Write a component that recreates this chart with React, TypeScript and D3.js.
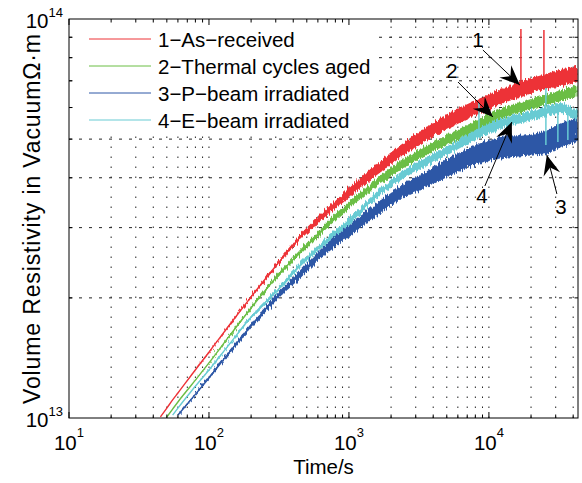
import React from 'react';
import * as d3 from 'd3';

// ---------- data (time in s, resistivity in units of 1e13 Ω·m) ----------
const times = [45, 50, 55, 60, 75, 100, 140, 200, 300, 450, 700, 1000, 1500, 2300, 3500, 5000, 8000, 12000, 17000, 25000, 32000, 38000, 43000];

const asReceived = [1.006, 1.059, 1.110, 1.155, 1.282, 1.463, 1.710, 2.011, 2.404, 2.843, 3.283, 3.664, 4.136, 4.642, 5.120, 5.519, 5.983, 6.376, 6.677, 6.952, 7.114, 7.197, 7.281];
const asReceivedSpread = [0, 0, 0, 0, 0, 0.3, 0.5, 0.7, 1.0, 1.5, 2.2, 2.8, 3.3, 3.7, 4.0, 4.3, 4.4, 4.4, 4.6, 4.6, 4.8, 4.9, 4.9];

const thermalTimes = [50, 55, 60, 75, 100, 140, 200, 300, 450, 700, 1000, 1500, 2300, 3500, 5000, 8000, 12000, 17000, 25000, 32000, 38000, 43000];
const thermalAged = [1.006, 1.053, 1.097, 1.210, 1.374, 1.606, 1.887, 2.243, 2.606, 3.046, 3.419, 3.837, 4.281, 4.669, 4.975, 5.393, 5.781, 6.018, 6.267, 6.413, 6.526, 6.601];
const thermalSpread = [0, 0, 0, 0, 0.3, 0.5, 0.8, 1.1, 1.4, 1.7, 2.0, 2.3, 2.6, 2.6, 2.9, 2.9, 2.9, 2.9, 2.9, 3.2, 3.2, 3.2];

const pBeamTimes = [60, 75, 100, 140, 200, 300, 450, 700, 1000, 1500, 2300, 3500, 5000, 8000, 12000, 17000, 25000, 32000, 38000, 43000];
const pBeam = [1.017, 1.116, 1.260, 1.463, 1.701, 1.999, 2.296, 2.668, 2.943, 3.283, 3.664, 3.949, 4.232, 4.563, 4.760, 4.820, 4.900, 5.100, 5.200, 5.330];
const pBeamSpread = [0.3, 0.5, 0.8, 1.1, 1.4, 1.7, 2.3, 2.9, 3.2, 3.7, 4.0, 4.6, 5.2, 5.8, 6.4, 6.4, 7.0, 7.2, 7.2, 7.2];

const eBeamTimes = [55, 60, 75, 100, 140, 200, 300, 450, 700, 1000, 1500, 2300, 3500, 5000, 8000, 12000, 17000, 25000, 32000, 38000, 43000];
const eBeam = [1.017, 1.059, 1.169, 1.319, 1.532, 1.791, 2.069, 2.418, 2.793, 3.099, 3.560, 4.018, 4.381, 4.669, 5.120, 5.456, 5.648, 5.846, 5.983, 5.880, 5.681];
const eBeamSpread = [0, 0, 0, 0.3, 0.5, 0.8, 1.1, 1.4, 1.7, 2.0, 2.0, 2.3, 2.6, 2.6, 2.9, 2.9, 2.9, 2.9, 2.9, 2.9, 2.9];

// isolated spikes (time, from, to)
const redSpikeT = [16930, 24720];
const redSpikeFrom = [6.7, 7.0];
const redSpikeTo = [9.44, 9.385];
const cyanSpikeT = [8490, 25530, 25530, 31100, 36650];
const cyanSpikeFrom = [5.3, 5.85, 5.85, 5.98, 5.9];
const cyanSpikeTo = [6.16, 6.72, 4.834, 4.918, 4.975];

const legendLabels = ['1\u2212As\u2212received', '2\u2212Thermal cycles aged', '3\u2212P\u2212beam irradiated', '4\u2212E\u2212beam irradiated'];
const seriesColors = ['#ED3237', '#6BBE45', '#2D57A6', '#68CBD3'];

// annotations
const arrowLabels = ['1', '2', '4', '3'];
const arrowLabelT = [8340, 5445, 8913, 32660];
const arrowLabelV = [8.86, 7.45, 3.601, 3.38];
const arrowTailT = [9060, 6010, 9360, 30600];
const arrowTailV = [8.36, 6.952, 3.815, 3.643];
const arrowTipT = [16640, 10680, 14590, 25940];
const arrowTipV = [6.83, 5.68, 5.519, 4.563];

const xTickExponents = [1, 2, 3, 4];
const yTickExponents = [13, 14];
const xLabel = 'Time/s';
const yLabel = 'Volume Resistivity in Vacuum\u03A9\u00B7m';

const E13 = 1e13;
const FONT = "'Liberation Sans', Arial, Helvetica, sans-serif";

export default function App() {
  const W = 582, H = 483;
  const left = 69, right = 578, top = 19, bottom = 418;
  const x = d3.scaleLog().domain([10, 43300]).range([left, right]);
  const y = d3.scaleLog().domain([1e13, 1e14]).range([bottom, top]);

  const series = [
    { t: times, v: asReceived, s: asReceivedSpread, c: seriesColors[0] },
    { t: thermalTimes, v: thermalAged, s: thermalSpread, c: seriesColors[1] },
    { t: pBeamTimes, v: pBeam, s: pBeamSpread, c: seriesColors[2] },
    { t: eBeamTimes, v: eBeam, s: eBeamSpread, c: seriesColors[3] },
  ];

  const area = d3.area<[number, number, number]>()
    .x(d => x(d[0]))
    .y0(d => y(d[1] * E13 / (1 + d[2] / 100)))
    .y1(d => y(d[1] * E13 * (1 + d[2] / 100)))
    .curve(d3.curveMonotoneX);
  const line = d3.line<[number, number]>()
    .x(d => x(d[0]))
    .y(d => y(d[1] * E13))
    .curve(d3.curveMonotoneX);

  const xMajor = xTickExponents.map(e => Math.pow(10, e));
  const xMinor: number[] = [];
  xMajor.forEach(d => { for (let k = 2; k <= 9; k++) if (d * k <= 43300) xMinor.push(d * k); });
  const yMajor = yTickExponents.map(e => Math.pow(10, e));
  const yMinor: number[] = [];
  for (let k = 2; k <= 9; k++) yMinor.push(k * 1e13);

  const arrowHead = (x1: number, y1: number, x2: number, y2: number) => {
    const dx = x2 - x1, dy = y2 - y1;
    const len = Math.hypot(dx, dy);
    const ux = dx / len, uy = dy / len;
    const nx = -uy, ny = ux;
    const L = 20, Wd = 8.5, notch = 7;
    const p = [
      [x2, y2],
      [x2 - L * ux + Wd * nx, y2 - L * uy + Wd * ny],
      [x2 - (L - notch) * ux, y2 - (L - notch) * uy],
      [x2 - L * ux - Wd * nx, y2 - L * uy - Wd * ny],
    ];
    return 'M' + p.map(q => q[0].toFixed(2) + ',' + q[1].toFixed(2)).join('L') + 'Z';
  };

  const legendRows = [39, 66, 93, 120];

  return (
    <svg width={W} height={H} style={{ position: 'absolute', left: 0, top: 0, background: '#fff' }} fontFamily={FONT}>
      <defs>
        <clipPath id="plotClip">
          <rect x={left} y={top} width={right - left} height={bottom - top} />
        </clipPath>
        <filter id="rough" filterUnits="userSpaceOnUse" colorInterpolationFilters="sRGB" x={left - 10} y={top - 10} width={right - left + 20} height={bottom - top + 20}>
          <feTurbulence type="fractalNoise" baseFrequency="0.9 0.04" numOctaves={2} seed={3} result="noise" />
          <feDisplacementMap in="SourceGraphic" in2="noise" scale={7} xChannelSelector="R" yChannelSelector="G" />
        </filter>
      </defs>
      <rect x={0} y={0} width={W} height={H} fill="#fff" />

      {/* grid */}
      <g stroke="#222" strokeWidth={1}>
        {[...xMajor.filter(d => d > 10), ...xMinor].map((d, i) => (
          <line key={'gx' + i} x1={x(d)} x2={x(d)} y1={bottom} y2={top} strokeDasharray="1.5,8.5" />
        ))}
        {yMinor.map((d, i) => (
          <line key={'gy' + i} x1={left} x2={right} y1={y(d)} y2={y(d)} strokeDasharray="3,7" />
        ))}
      </g>

      {/* legend background */}
      <rect x={72} y={22} width={305} height={113} fill="#fff" />

      {/* data */}
      <g clipPath="url(#plotClip)">
        {series.map((s, i) => {
          const pts = s.t.map((t, j) => [t, s.v[j], s.s[j]] as [number, number, number]);
          const lp = s.t.map((t, j) => [t, s.v[j]] as [number, number]);
          return (
            <g key={'s' + i}>
              <path d={line(lp) || ''} fill="none" stroke={s.c} strokeWidth={1.4} />
              <path d={area(pts) || ''} fill={s.c} stroke="none" filter="url(#rough)" />
              {i === 0 && redSpikeT.map((t, j) => (
                <line key={'rs' + j} x1={x(t)} x2={x(t)} y1={y(redSpikeFrom[j] * E13)} y2={y(redSpikeTo[j] * E13)} stroke={s.c} strokeWidth={1.5} />
              ))}
              {i === 3 && cyanSpikeT.map((t, j) => (
                <line key={'cs' + j} x1={x(t)} x2={x(t)} y1={y(cyanSpikeFrom[j] * E13)} y2={y(cyanSpikeTo[j] * E13)} stroke={s.c} strokeWidth={1.5} />
              ))}
            </g>
          );
        })}
      </g>

      {/* axes box and ticks */}
      <rect x={left} y={top} width={right - left} height={bottom - top} fill="none" stroke="#000" strokeWidth={1} />
      <g stroke="#000" strokeWidth={1}>
        {xMajor.map((d, i) => (
          <g key={'xt' + i}>
            <line x1={x(d)} x2={x(d)} y1={bottom} y2={bottom - 6} />
            <line x1={x(d)} x2={x(d)} y1={top} y2={top + 6} />
          </g>
        ))}
        {xMinor.map((d, i) => (
          <g key={'xm' + i}>
            <line x1={x(d)} x2={x(d)} y1={bottom} y2={bottom - 3.5} />
            <line x1={x(d)} x2={x(d)} y1={top} y2={top + 3.5} />
          </g>
        ))}
        {yMinor.map((d, i) => (
          <g key={'ym' + i}>
            <line x1={left} x2={left + 3.5} y1={y(d)} y2={y(d)} />
            <line x1={right} x2={right - 3.5} y1={y(d)} y2={y(d)} />
          </g>
        ))}
      </g>

      {/* tick labels */}
      {xMajor.map((d, i) => (
        <text key={'xl' + i} x={x(d)} y={450} textAnchor="middle" fontSize={20.5} fill="#000">
          <tspan>10</tspan>
          <tspan dy={-13} fontSize={13}>{xTickExponents[i]}</tspan>
        </text>
      ))}
      {yMajor.map((d, i) => (
        <text key={'yl' + i} x={63} y={y(d) + 9} textAnchor="end" fontSize={20.5} fill="#000">
          <tspan>10</tspan>
          <tspan dy={-11} fontSize={13}>{yTickExponents[i]}</tspan>
        </text>
      ))}

      {/* axis labels */}
      <text x={(left + right) / 2} y={474} textAnchor="middle" fontSize={20.5} fill="#000">{xLabel}</text>
      <text transform={`translate(40,219) rotate(-90)`} textAnchor="middle" fontSize={23} textLength={370} lengthAdjust="spacing" fill="#000">{yLabel}</text>

      {/* legend */}
      {legendLabels.map((lab, i) => (
        <g key={'lg' + i}>
          <line x1={89} x2={151} y1={legendRows[i]} y2={legendRows[i]} stroke={seriesColors[i]} strokeWidth={1} />
          <text x={158} y={legendRows[i] + 7.5} fontSize={20.5} fill="#000">{lab}</text>
        </g>
      ))}

      {/* annotations */}
      {arrowLabels.map((lab, i) => {
        const x1 = x(arrowTailT[i]), y1 = y(arrowTailV[i] * E13);
        const x2 = x(arrowTipT[i]), y2 = y(arrowTipV[i] * E13);
        return (
          <g key={'ar' + i}>
            <line x1={x1} y1={y1} x2={x2} y2={y2} stroke="#000" strokeWidth={1} />
            <path d={arrowHead(x1, y1, x2, y2)} fill="#000" />
            <text x={x(arrowLabelT[i])} y={y(arrowLabelV[i] * E13) + 7.5} textAnchor="middle" fontSize={20.5} fill="#000">{lab}</text>
          </g>
        );
      })}
    </svg>
  );
}
